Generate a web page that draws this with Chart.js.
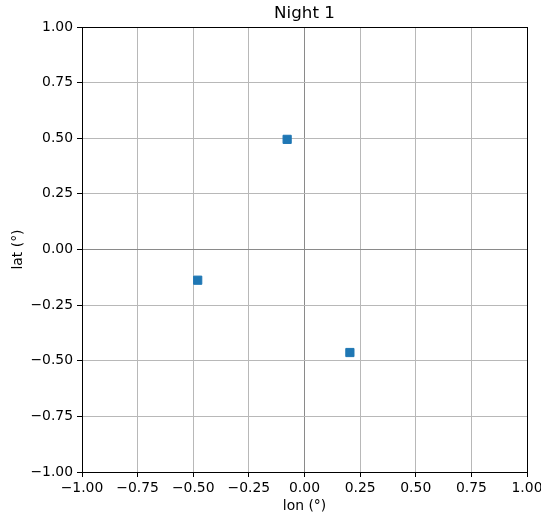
<!DOCTYPE html>
<html>
<head>
<meta charset="utf-8">
<script src="https://cdn.jsdelivr.net/npm/chart.js@4.4.1/dist/chart.umd.min.js"></script>
<style>
html,body{margin:0;padding:0;background:#fff;}
canvas{display:block;}
</style>
</head>
<body>
<canvas id="c" width="541" height="516"></canvas>
<script>
// Data
const lonValues = [-0.078, -0.480, 0.204];
const latValues = [0.495, -0.138, -0.463];
const tickValues = [-1.00, -0.75, -0.50, -0.25, 0.00, 0.25, 0.50, 0.75, 1.00];
const titleText = 'Night 1';
const xLabel = 'lon (°)';
const yLabel = 'lat (°)';

const points = lonValues.map((x, i) => ({x: x, y: latValues[i]}));
const FONT = 'DejaVu Sans';
const fmt = v => (Math.abs(v) < 1e-9 ? 0 : v).toFixed(2).replace('-', '\u2212');
const gridColor = ctx => (ctx.tick && Math.abs(ctx.tick.value) < 1e-9) ? '#8a8a8a' : '#b8b8b8';

const frame = {
  id: 'frame',
  afterDraw(chart) {
    const a = chart.chartArea, c = chart.ctx;
    const l = Math.round(a.left), t = Math.round(a.top), r = Math.round(a.right), b = Math.round(a.bottom);
    c.save();
    c.strokeStyle = '#000';
    c.lineWidth = 1;
    c.strokeRect(l + 0.5, t + 0.5, r - l, b - t);
    c.restore();
  }
};

new Chart(document.getElementById('c'), {
  type: 'scatter',
  data: {
    datasets: [{
      data: points,
      pointStyle: 'rect',
      pointRadius: 5.8,
      pointHoverRadius: 5.8,
      borderWidth: 1,
      backgroundColor: '#1f77b4',
      borderColor: '#1f77b4'
    }]
  },
  options: {
    responsive: false,
    animation: false,
    layout: {padding: {left: 0, right: 14, top: 0, bottom: 0}},
    plugins: {
      legend: {display: false},
      tooltip: {enabled: false},
      title: {display: false}
    },
    scales: {
      x: {
        type: 'linear',
        position: 'bottom',
        min: -1, max: 1,
        afterBuildTicks: s => { s.ticks = tickValues.map(v => ({value: v})); },
        afterFit: s => { s.height = 44; s.paddingLeft = 0; s.paddingRight = 0; },
        grid: {color: gridColor, lineWidth: 1, tickLength: 5, tickColor: '#000', drawTicks: true},
        border: {display: false},
        ticks: {
          color: '#000', padding: 3, maxRotation: 0, autoSkip: false,
          font: {family: FONT, size: 13.9},
          callback: v => fmt(v)
        },
        title: {display: true, text: xLabel, color: '#000', font: {family: FONT, size: 13.9}, padding: {top: 0, bottom: 1}}
      },
      xTop: {
        type: 'linear',
        axis: 'x',
        position: 'top',
        min: -1, max: 1,
        afterFit: s => { s.height = 27; s.paddingLeft = 0; s.paddingRight = 0; },
        grid: {display: false, drawTicks: false},
        border: {display: false},
        ticks: {display: false},
        title: {display: true, text: titleText, color: '#000', font: {family: FONT, size: 16.7}, padding: {top: 4, bottom: 3}}
      },
      y: {
        type: 'linear',
        min: -1, max: 1,
        afterBuildTicks: s => { s.ticks = tickValues.map(v => ({value: v})); },
        afterFit: s => { s.width = 82; s.paddingTop = 0; s.paddingBottom = 0; },
        grid: {color: gridColor, lineWidth: 1, tickLength: 5, tickColor: '#000', drawTicks: true},
        border: {display: false},
        ticks: {
          color: '#000', padding: 4, autoSkip: false,
          font: {family: FONT, size: 13.9},
          callback: v => fmt(v)
        },
        title: {display: true, text: yLabel, color: '#000', font: {family: FONT, size: 13.9}, padding: {top: 10, bottom: 0}}
      }
    }
  },
  plugins: [frame]
});
</script>
</body>
</html>
